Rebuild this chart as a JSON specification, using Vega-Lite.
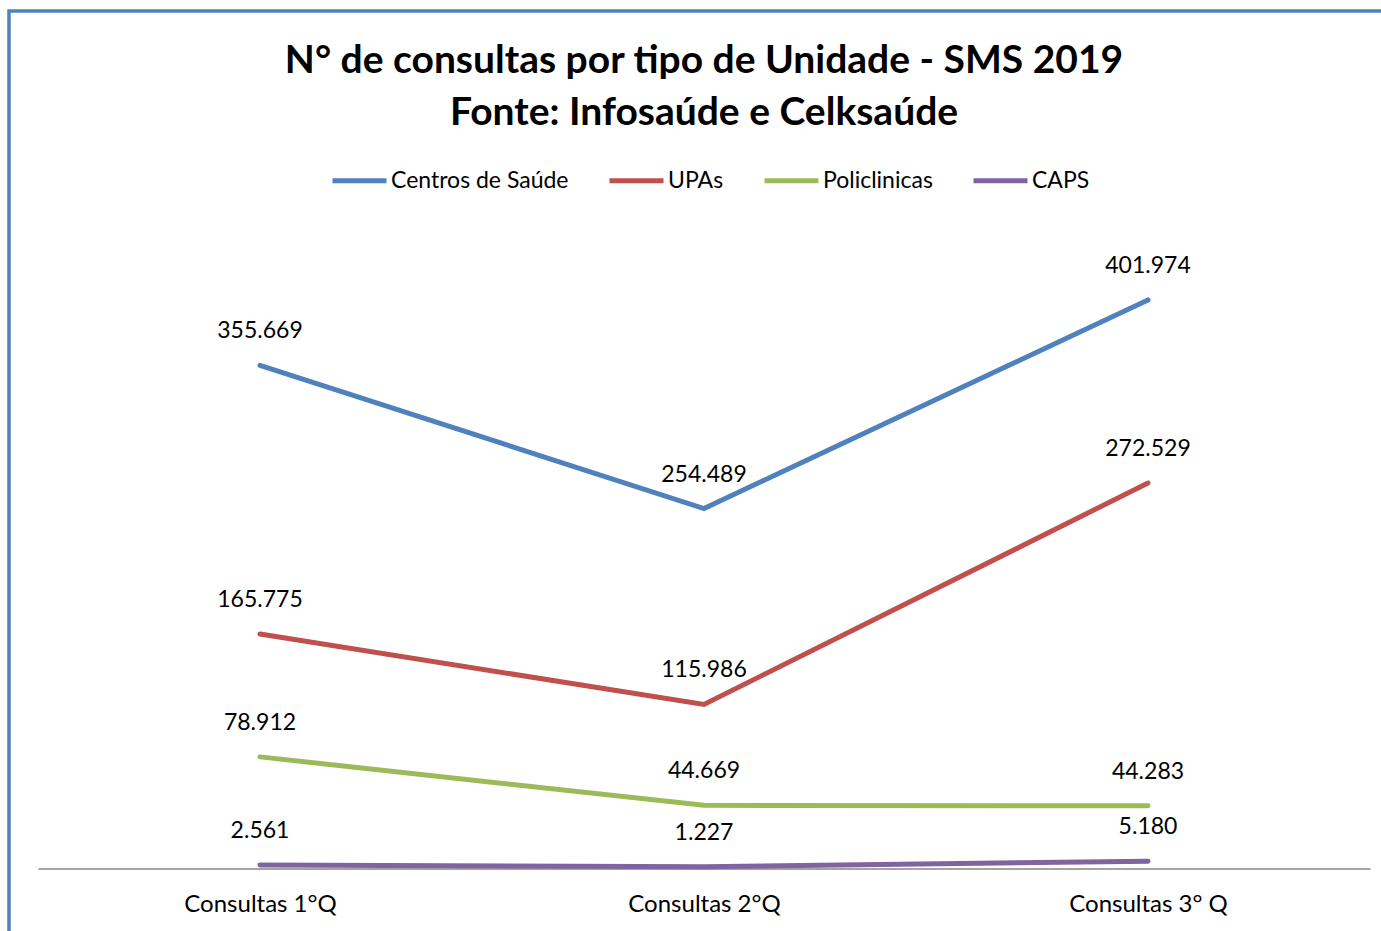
{
  "$schema": "https://vega.github.io/schema/vega-lite/v6.json",
  "width": 1390,
  "height": 929,
  "autosize": {"type": "none"},
  "padding": {"left": 9, "top": 11, "right": 0, "bottom": 0},
  "background": "white",
  "config": {
    "font": "Lato",
    "view": {"stroke": "#4F81BD", "strokeWidth": 3.5},
    "locale": {"number": {"decimal": ",", "thousands": ".", "grouping": [3], "currency": ["R$", ""]}}
  },
  "title": {
    "text": ["N° de consultas por tipo de Unidade - SMS 2019", "Fonte: Infosaúde e Celksaúde"],
    "anchor": "middle",
    "frame": "group",
    "orient": "top",
    "baseline": "top",
    "offset": -122,
    "fontSize": 39,
    "fontWeight": "bold",
    "lineHeight": 52,
    "color": "#000000",
    "font": "Lato"
  },
  "data": {
    "values": [
      {"q": "Consultas 1°Q", "serie": "Centros de Saúde", "v": 355669},
      {"q": "Consultas 2°Q", "serie": "Centros de Saúde", "v": 254489},
      {"q": "Consultas 3° Q", "serie": "Centros de Saúde", "v": 401974},
      {"q": "Consultas 1°Q", "serie": "UPAs", "v": 165775},
      {"q": "Consultas 2°Q", "serie": "UPAs", "v": 115986},
      {"q": "Consultas 3° Q", "serie": "UPAs", "v": 272529},
      {"q": "Consultas 1°Q", "serie": "Policlinicas", "v": 78912},
      {"q": "Consultas 2°Q", "serie": "Policlinicas", "v": 44669},
      {"q": "Consultas 3° Q", "serie": "Policlinicas", "v": 44283},
      {"q": "Consultas 1°Q", "serie": "CAPS", "v": 2561},
      {"q": "Consultas 2°Q", "serie": "CAPS", "v": 1227},
      {"q": "Consultas 3° Q", "serie": "CAPS", "v": 5180}
    ]
  },
  "encoding": {
    "x": {
      "field": "q",
      "type": "nominal",
      "sort": ["Consultas 1°Q", "Consultas 2°Q", "Consultas 3° Q"],
      "scale": {"type": "point", "range": [29, 1361], "padding": 0.5},
      "axis": {
        "title": null,
        "orient": "bottom",
        "offset": -71.5,
        "domainColor": "#868686",
        "domainWidth": 1.5,
        "ticks": false,
        "grid": false,
        "labelAngle": 0,
        "labelFontSize": 24,
        "labelColor": "#000000",
        "labelPadding": 24,
        "labelFont": "Lato"
      }
    },
    "y": {
      "field": "v",
      "type": "quantitative",
      "scale": {"domain": [-50548, 606227], "nice": false, "zero": false},
      "axis": null
    }
  },
  "layer": [
    {
      "mark": {"type": "line", "strokeWidth": 5, "strokeCap": "round", "strokeJoin": "miter"},
      "encoding": {
        "color": {
          "field": "serie",
          "type": "nominal",
          "scale": {
            "domain": ["Centros de Saúde", "UPAs", "Policlinicas", "CAPS"],
            "range": ["#4F81BD", "#C0504D", "#9BBB59", "#8064A2"]
          },
          "legend": {
            "title": null,
            "orient": "none",
            "direction": "horizontal",
            "legendX": 321,
            "legendY": 140,
            "symbolType": "stroke",
            "symbolSize": 2916,
            "symbolStrokeWidth": 5,
            "labelFontSize": 23,
            "labelColor": "#000000",
            "labelFont": "Lato",
            "labelLimit": 400,
            "labelOffset": 2,
            "columnPadding": 30
          }
        }
      }
    },
    {
      "mark": {"type": "text", "fontSize": 23, "dy": -27, "baseline": "alphabetic", "color": "#000000", "font": "Lato"},
      "encoding": {
        "text": {"field": "v", "type": "quantitative", "format": ",d"}
      }
    }
  ]
}
